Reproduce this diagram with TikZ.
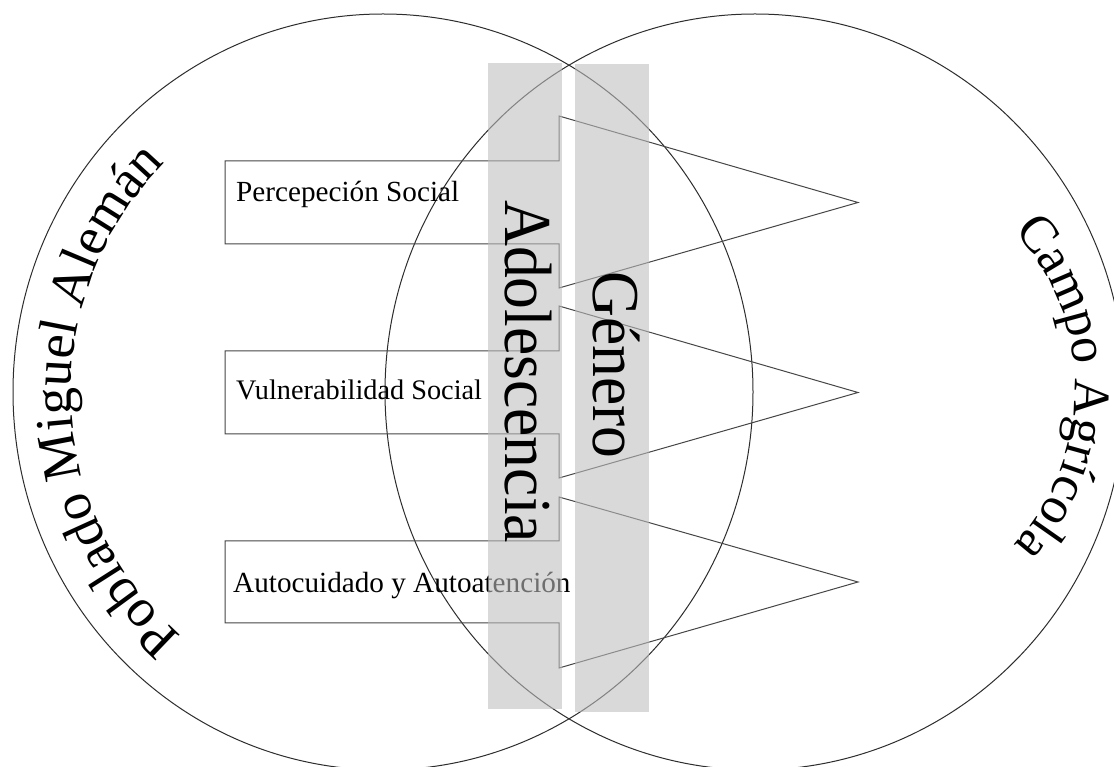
\documentclass[tikz,border=0pt]{standalone}
\usepackage{fontspec}
\setmainfont{Liberation Serif}
\newfontfamily\bigfont[FakeStretch=0.95]{Liberation Serif}
\usetikzlibrary{decorations.text}
\definecolor{bandgray}{RGB}{190,190,190}
\definecolor{vennline}{RGB}{45,45,45}
\definecolor{arrowline}{RGB}{70,70,70}
\newcommand\curvefont{\fontsize{54}{54}\selectfont}
\newcommand\campofont{\fontsize{52}{52}\selectfont}
\begin{document}
\begin{tikzpicture}[x=1pt,y=1pt,
  venn/.style={draw=vennline, line width=1pt},
  blockarrow/.style={draw=arrowline, line width=1pt, line join=miter},
  band/.style={fill=bandgray, fill opacity=0.58},
  itemlabel/.style={anchor=base west, inner sep=0pt, font=\fontsize{29.2}{34}\selectfont},
  bandlabel/.style={anchor=base, inner sep=0pt, rotate=-90, font=\bigfont\fontsize{67}{70}\selectfont},
]
\fill[white] (0,0) rectangle (1114,766);
\clip (0,0) rectangle (1114,766);
\useasboundingbox (0,0) rectangle (1114,766);

% Venn ellipses
\draw[venn] (383,374) ellipse [x radius=370, y radius=378];
\draw[venn] (755,374) ellipse [x radius=370, y radius=378];

% block arrows
\draw[blockarrow] (225,605) -- (559,605) -- (559,650) -- (858,563.5) -- (559,478) -- (559,522) -- (225,522) -- cycle;
\draw[blockarrow] (225,415) -- (559,415) -- (559,460) -- (858,373.5) -- (559,288) -- (559,332) -- (225,332) -- cycle;
\draw[blockarrow] (225,225) -- (559,225) -- (559,269) -- (858,184) -- (559,98) -- (559,143) -- (225,143) -- cycle;

% arrow texts
\node[itemlabel] (percep) at (236,564.3) {Percepeción Social};
\node[itemlabel, font=\fontsize{28.3}{34}\selectfont] (vulner) at (236,366) {Vulnerabilidad Social};
\node[itemlabel] (autocu) at (233,173) {Autocuidado y Autoatención};

% grey bands
\fill[band] (488,56.5) rectangle (562,702.5);
\fill[band] (575,54) rectangle (649,701.5);

% band labels
\node[bandlabel] (adol) at (505,394.5) {Adolescencia};
\node[bandlabel] (gene) at (593,401) {Género};

% curved labels
\path[decorate, decoration={text along path, text align=center,
  text={|\curvefont|Poblado Miguel Alemán}}]
  (383,374) ++(250:312pt and 320pt)
  arc[start angle=250, end angle=114, x radius=312pt, y radius=320pt];
\path[decorate, decoration={text along path, text align=center,
  text={|\campofont|Campo Agrícola}}]
  (842,378) ++(80:233pt)
  arc[start angle=80, end angle=-80, radius=233pt];
\end{tikzpicture}
\end{document}
